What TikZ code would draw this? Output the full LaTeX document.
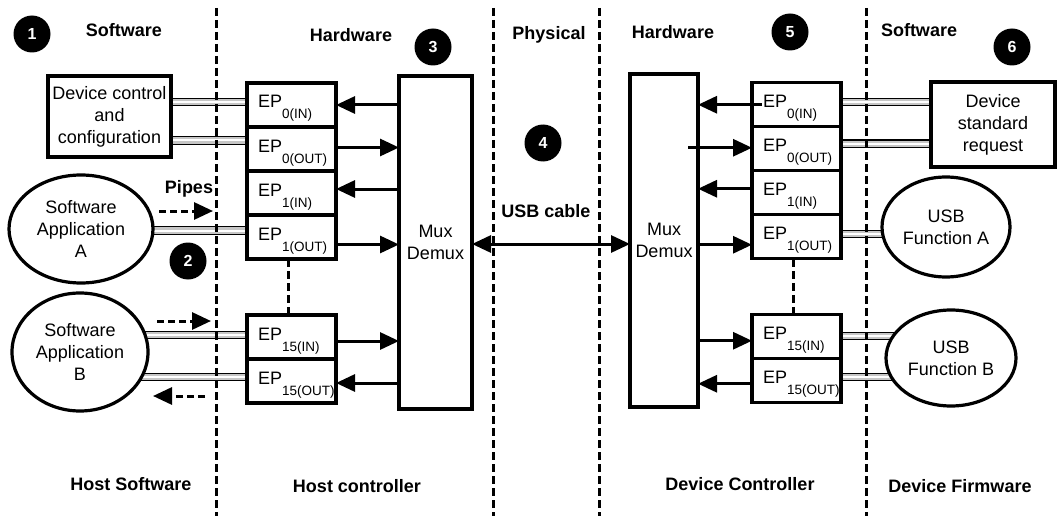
\documentclass[tikz,border=0pt]{standalone}
\usepackage{fontspec}
\setmainfont{Liberation Sans}
\usetikzlibrary{arrows.meta,positioning,shapes.geometric,backgrounds}
\newcommand{\epsub}[1]{EP\raisebox{-11pt}{\fontsize{13.5}{14}\selectfont #1}}

\begin{document}
\begin{tikzpicture}[x=1pt,y=-1pt]
	\useasboundingbox (0,0) rectangle (1057,516);

	\tikzstyle{mybox}=[rectangle,
	draw=black,
	line width=3.2pt,
	fill=white,
	inner sep=0pt,
	outer sep=0pt,
	align=center,
	font=\fontsize{18}{22}\selectfont
	]
	\tikzstyle{myep}=[mybox, minimum width=89pt, minimum height=43.5pt,
	text width=67pt, align=left, text height=25pt, text depth=19pt]
	\tikzstyle{myellipse}=[ellipse, draw=black, line width=3.2pt, fill=white,
	inner sep=0pt, align=center, font=\fontsize{18}{22}\selectfont]
	\tikzstyle{mynum}=[circle, fill=black, text=white, minimum size=37pt,
	inner sep=0pt, font=\fontsize{16}{16}\selectfont\bfseries]
	\tikzstyle{mylabel}=[inner sep=0pt, font=\fontsize{18}{18}\selectfont\bfseries]
	\tikzstyle{myarrow}=[line width=3pt, -{Triangle[length=19pt,width=17pt]}]
	\tikzstyle{mycable}=[line width=3pt, {Triangle[length=19pt,width=17pt]}-{Triangle[length=19pt,width=17pt]}]
	\tikzstyle{mypipe}=[line width=8.5pt, draw=black,
	postaction={draw=gray!45, line width=6.2pt},
	postaction={draw=white, line width=2pt}]
	\tikzstyle{mypipearrow}=[line width=3pt, dash pattern=on 7pt off 4pt,
	-{Triangle[length=19pt,width=17pt]}]
	\tikzstyle{mydivider}=[line width=3pt, dash pattern=on 8pt off 4pt]

	% domain boundaries
	\foreach \xd in {216,493,599,866}
	\draw[mydivider] (\xd,8) -- (\xd,516);

	\coordinate (pdevctl) at (109.5,116.5);
	\coordinate (pappa) at (81,229);
	\coordinate (pappb) at (80,352);
	\coordinate (ph0) at (291.5,105);
	\coordinate (ph15) at (291.5,337);
	\coordinate (phmux) at (435.5,242.5);
	\coordinate (pdmux) at (664,240.5);
	\coordinate (pd0) at (796.5,104.75);
	\coordinate (pd15) at (796.5,336.75);
	\coordinate (pdevreq) at (993,124.5);
	\coordinate (pusba) at (946,227);
	\coordinate (pusbb) at (951,358);

	% software side of the host
	\node[mybox, minimum width=123pt, minimum height=81pt] (devctl) at (pdevctl) {Device control\\and\\configuration};
	\node[myellipse, minimum width=144pt, minimum height=108pt] (appa) at (pappa) {Software\\Application\\A};
	\node[myellipse, minimum width=136pt, minimum height=118pt] (appb) at (pappb) {Software\\Application\\B};

	% host controller
	\node[myep] (h0in) at (ph0) {\epsub{0(IN)}};
	\node[myep, below=0pt of h0in] (h0out) {\epsub{0(OUT)}};
	\node[myep, below=0pt of h0out] (h1in) {\epsub{1(IN)}};
	\node[myep, below=0pt of h1in] (h1out) {\epsub{1(OUT)}};
	\node[myep] (h15in) at (ph15) {\epsub{15(IN)}};
	\node[myep, below=0pt of h15in] (h15out) {\epsub{15(OUT)}};
	\node[mybox, minimum width=73pt, minimum height=333pt] (hmux) at (phmux) {Mux\\Demux};

	% device controller
	\node[mybox, minimum width=68pt, minimum height=333pt] (dmux) at (pdmux) {Mux\\Demux};
	\node[myep] (d0in) at (pd0) {\epsub{0(IN)}};
	\node[myep, below=0pt of d0in] (d0out) {\epsub{0(OUT)}};
	\node[myep, below=0pt of d0out] (d1in) {\epsub{1(IN)}};
	\node[myep, below=0pt of d1in] (d1out) {\epsub{1(OUT)}};
	\node[myep] (d15in) at (pd15) {\epsub{15(IN)}};
	\node[myep, below=0pt of d15in] (d15out) {\epsub{15(OUT)}};

	% device firmware
	\node[mybox, minimum width=124pt, minimum height=85pt] (devreq) at (pdevreq) {Device\\standard\\request};
	\node[myellipse, minimum width=128pt, minimum height=100pt] (usba) at (pusba) {USB\\Function A};
	\node[myellipse, minimum width=130pt, minimum height=96pt] (usbb) at (pusbb) {USB\\Function B};

	% labels
	\node[mylabel] (lsw1) at (124,30) {Software};
	\node[mylabel] (lhw1) at (351,35) {Hardware};
	\node[mylabel] (lphy) at (549,35) {Physical};
	\node[mylabel] (lhw2) at (673,32) {Hardware};
	\node[mylabel] (lsw2) at (919,30) {Software};
	\node[mylabel] (lcable) at (546,211) {USB cable};
	\node[mylabel] (lpipes) at (189,189) {Pipes};
	\node[mylabel] (lhsw) at (131,484) {Host Software};
	\node[mylabel] (lhc) at (357,486) {Host controller};
	\node[mylabel] (ldc) at (740,484) {Device Controller};
	\node[mylabel] (ldf) at (960,486) {Device Firmware};

	\node[mynum] (n1) at (32,34) {1};
	\node[mynum] (n2) at (188,261) {2};
	\node[mynum] (n3) at (433,47) {3};
	\node[mynum] (n4) at (543,143) {4};
	\node[mynum] (n5) at (790,32) {5};
	\node[mynum] (n6) at (1012,47) {6};

	% pipes
	\begin{scope}[on background layer]
	\draw[mypipe] ([yshift=3pt]h0in.center) -- ([yshift=3pt]h0in.center -| devctl.center);
	\draw[mypipe] ([yshift=8.5pt]h0out.center) -- ([yshift=8.5pt]h0out.center -| devctl.center);
	\draw[mypipe] ([yshift=6.5pt]h1out.center) -- ([yshift=6.5pt]h1out.center -| appa.center);
	\draw[mypipe] ([yshift=2pt]h15in.center) -- ([yshift=2pt]h15in.center -| appb.center);
	\draw[mypipe] ([yshift=4pt]h15out.center) -- ([yshift=4pt]h15out.center -| appb.center);
	\draw[mypipe] ([yshift=2.75pt]d0in.center) -- ([yshift=2.75pt]d0in.center -| devreq.center);
	\draw[mypipe] ([yshift=5pt]d0out.center) -- ([yshift=5pt]d0out.center -| devreq.center);
	\draw[mypipe] ([yshift=3pt]d1out.center) -- ([yshift=3pt]d1out.center -| usba.center);
	\draw[mypipe] ([yshift=0.75pt]d15in.center) -- ([yshift=0.75pt]d15in.center -| usbb.center);
	\draw[mypipe] ([yshift=4pt]d15out.center) -- ([yshift=4pt]d15out.center -| usbb.center);
	\end{scope}

	% endpoint gaps
	\draw[mydivider] ([xshift=-3.5pt]h1out.south) -- ([xshift=-3.5pt]h15in.north);
	\draw[mydivider] ([xshift=-3.5pt]d1out.south) -- ([xshift=-3.5pt]d15in.north);

	% host controller signals
	\draw[myarrow] (hmux.west |- h0in.east) -- (h0in.east);
	\draw[myarrow] ([yshift=1.5pt]h0out.east) -- ([yshift=1.5pt]h0out.east -| hmux.west);
	\draw[myarrow] ([yshift=4pt]h1in.east -| hmux.west) -- ([yshift=4pt]h1in.east);
	\draw[myarrow] ([yshift=-7.5pt]h1out.east) -- ([yshift=-7.5pt]h1out.east -| hmux.west);
	\draw[myarrow] ([yshift=-4pt]h15in.east) -- ([yshift=-4pt]h15in.east -| hmux.west);
	\draw[myarrow] ([yshift=-2pt]h15out.east -| hmux.west) -- ([yshift=-2pt]h15out.east);

	% device controller signals
	\draw[myarrow] ([xshift=10pt]d0in.west) -- (dmux.east |- d0in.west);
	\draw[myarrow] ([xshift=-10pt,yshift=1pt]dmux.east |- d0out.west) -- ([yshift=1pt]d0out.west);
	\draw[myarrow] ([yshift=4pt]d1in.west) -- ([yshift=4pt]d1in.west -| dmux.east);
	\draw[myarrow] ([yshift=-8pt]d1out.west -| dmux.east) -- ([yshift=-8pt]d1out.west);
	\draw[myarrow] ([yshift=-4pt]d15in.west -| dmux.east) -- ([yshift=-4pt]d15in.west);
	\draw[myarrow] ([yshift=-3pt]d15out.west) -- ([yshift=-3pt]d15out.west -| dmux.east);

	% usb cable
	\draw[mycable] ([yshift=-1.5pt]hmux.east) -- ([yshift=-1.5pt]hmux.east -| dmux.west);

	% pipe direction hints
	\coordinate (pa1) at (159,211);
	\coordinate (pa2) at (213,211);
	\coordinate (pb1) at (157,321);
	\coordinate (pb2) at (211,321);
	\coordinate (pb3) at (205,396);
	\coordinate (pb4) at (153,396);
	\draw[mypipearrow] (pa1) -- (pa2);
	\draw[mypipearrow] (pb1) -- (pb2);
	\draw[mypipearrow] (pb3) -- (pb4);
\end{tikzpicture}
\end{document}
